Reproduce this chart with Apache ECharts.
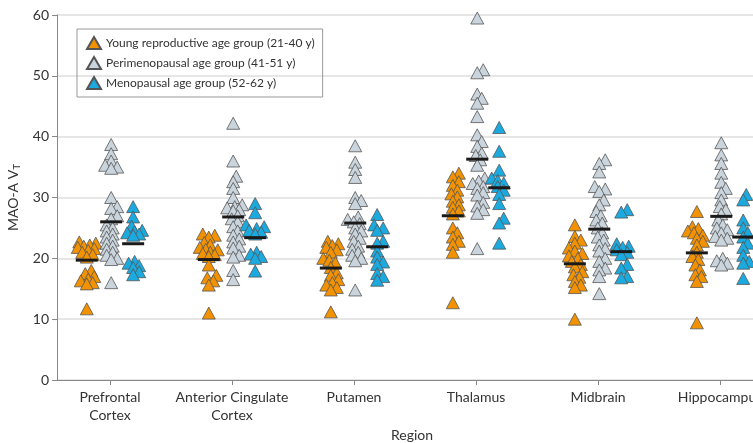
<!DOCTYPE html>
<html>
<head>
<meta charset="utf-8">
<script src="https://cdn.jsdelivr.net/npm/echarts@6/dist/echarts.min.js"></script>
<style>
html,body{margin:0;padding:0;background:#fff;}
#chart{width:753px;height:443px;}
</style>
</head>
<body>
<div id="chart"></div>
<script>
// ---------- data ----------
const categories = ['Prefrontal\nCortex', 'Anterior Cingulate\nCortex', 'Putamen', 'Thalamus', 'Midbrain', 'Hippocampus'];
const groupNames = ['Young reproductive age group (21-40 y)', 'Perimenopausal age group (41-51 y)', 'Menopausal age group (52-62 y)'];

const youngValues = [
  [22.7, 22.5, 22.2, 22.0, 21.8, 21.6, 21.3, 21.0, 20.6, 20.2, 18.0, 17.5, 17.0, 16.6, 16.3, 16.0, 15.8, 11.7],
  [24.0, 23.8, 23.5, 22.6, 22.2, 21.8, 21.5, 21.4, 21.0, 20.8, 20.6, 20.3, 18.9, 17.2, 16.8, 16.3, 15.6, 11.0],
  [22.8, 22.4, 22.1, 21.8, 21.4, 21.0, 20.0, 19.7, 19.3, 18.5, 17.6, 17.2, 16.5, 16.0, 15.6, 15.2, 14.8, 11.2],
  [34.0, 33.4, 32.6, 32.0, 31.2, 30.6, 30.1, 29.4, 28.8, 28.4, 27.8, 27.3, 25.0, 24.2, 23.5, 22.8, 22.3, 21.0, 12.7],
  [25.5, 23.6, 23.0, 22.5, 21.7, 21.2, 20.8, 20.4, 20.0, 19.5, 19.0, 18.6, 17.8, 17.3, 16.9, 16.2, 15.6, 15.2, 10.0],
  [27.7, 25.2, 24.9, 24.5, 24.2, 23.8, 23.3, 22.8, 22.2, 21.0, 20.3, 19.8, 18.9, 18.1, 17.3, 17.0, 16.2, 9.4]
];
const periValues = [
  [38.7, 37.2, 36.0, 35.3, 35.0, 34.8, 30.0, 28.5, 28.2, 27.0, 26.5, 25.5, 25.0, 24.5, 24.0, 23.5, 23.0, 22.5, 22.0, 21.5, 21.0, 20.5, 20.0, 19.8, 16.0],
  [42.2, 36.0, 33.5, 32.6, 31.5, 30.0, 28.8, 28.5, 28.3, 28.0, 27.8, 27.0, 26.5, 26.0, 25.2, 24.5, 23.8, 23.2, 22.7, 22.0, 21.7, 20.5, 20.2, 18.0, 16.5],
  [38.5, 35.8, 34.6, 33.3, 30.0, 29.5, 29.0, 26.8, 26.4, 26.0, 25.7, 25.0, 24.5, 24.0, 23.3, 22.8, 22.0, 21.5, 21.0, 20.5, 20.0, 19.6, 14.8],
  [59.5, 51.0, 50.5, 47.0, 46.3, 45.5, 43.3, 40.3, 39.2, 38.4, 37.3, 36.9, 36.2, 35.3, 33.2, 32.7, 32.3, 31.8, 31.5, 30.8, 30.4, 29.2, 28.6, 28.0, 27.4, 21.6],
  [36.2, 35.6, 34.2, 31.8, 31.4, 31.0, 29.6, 28.8, 27.7, 27.0, 26.3, 25.8, 25.0, 24.2, 23.5, 23.0, 22.2, 21.6, 21.2, 20.0, 19.5, 18.4, 18.1, 17.0, 14.2],
  [39.0, 37.0, 35.6, 34.0, 32.5, 31.5, 30.8, 29.6, 28.5, 28.0, 27.3, 26.3, 25.5, 25.0, 24.7, 24.2, 23.6, 23.3, 23.0, 20.0, 19.6, 19.2, 18.9]
];
const menoValues = [
  [28.5, 26.8, 25.3, 24.6, 24.4, 24.2, 24.0, 23.8, 19.5, 19.2, 18.8, 18.5, 17.8, 17.3],
  [29.0, 27.5, 25.5, 25.2, 24.9, 24.6, 24.3, 24.0, 21.0, 20.7, 20.3, 20.0, 17.9],
  [27.2, 25.5, 25.0, 24.6, 22.8, 22.5, 21.2, 20.2, 19.4, 19.0, 17.5, 17.0, 16.4],
  [41.5, 37.6, 34.5, 33.2, 32.8, 32.4, 31.8, 31.2, 30.5, 29.0, 26.6, 25.8, 22.5],
  [28.0, 27.6, 22.4, 22.0, 21.8, 21.4, 21.0, 20.6, 19.0, 18.4, 17.0, 16.8],
  [30.5, 29.6, 26.3, 25.0, 24.2, 23.5, 22.5, 21.8, 20.5, 19.5, 19.2, 16.7]
];
const youngMeans = [19.7, 19.8, 18.4, 27.0, 19.1, 20.9];
const periMeans  = [26.0, 26.8, 25.8, 36.3, 24.8, 26.9];
const menoMeans  = [22.4, 23.4, 21.9, 31.6, 21.1, 23.5];
const yTickValues = [0, 10, 20, 30, 40, 50, 60];

// ---------- layout / style ----------
const groupOffset = [-0.19, 0.01, 0.19];
const colors = ['#F29200', '#C9D4DC', '#1AAADF'];
const PX_X = 122, PX_Y = 6.083;
const FONT = "Lato, 'Liberation Sans', sans-serif";

// deterministic beeswarm: spread points sideways so they don't pile up
function swarm(vals) {
  const D = 6, step = 1.5, maxOff = 9;
  const order = vals.map((v, i) => i).sort((a, b) => vals[a] - vals[b]);
  const placed = [];
  const out = new Array(vals.length).fill(0);
  for (const i of order) {
    const y = vals[i] * PX_Y;
    let chosen = null, bestOff = 0, bestMin = -1;
    for (let k = 0; k <= (maxOff / step) * 2; k++) {
      const off = (k % 2 === 1 ? 1 : -1) * Math.ceil(k / 2) * step;
      let minD = Infinity;
      for (const p of placed) {
        const d = Math.hypot(p.x - off, p.y - y);
        if (d < minD) minD = d;
      }
      if (minD >= D) { chosen = off; break; }
      if (minD > bestMin) { bestMin = minD; bestOff = off; }
    }
    if (chosen === null) chosen = bestOff;
    placed.push({ x: chosen, y: y });
    out[i] = chosen / PX_X;
  }
  return out;
}

const allGroups = [youngValues, periValues, menoValues];
const allMeans = [youngMeans, periMeans, menoMeans];

const scatterSeries = allGroups.map((group, g) => {
  const data = [];
  group.forEach((vals, r) => {
    const jit = swarm(vals);
    vals.forEach((v, i) => data.push([r + groupOffset[g] + jit[i], v]));
  });
  return {
    name: groupNames[g],
    type: 'scatter',
    symbol: 'triangle',
    symbolSize: [13, 12],
    itemStyle: { color: colors[g], borderColor: '#555', borderWidth: 0.8, opacity: 1 },
    emphasis: { disabled: true },
    data: data,
    z: 2
  };
});

const meanData = [];
allMeans.forEach((means, g) => means.forEach((m, r) => meanData.push([r + groupOffset[g], m])));

const meanSeries = {
  type: 'custom',
  data: meanData,
  z: 5,
  renderItem: function (params, api) {
    const p = api.coord([api.value(0), api.value(1)]);
    return {
      type: 'line',
      shape: { x1: p[0] - 11, y1: p[1], x2: p[0] + 11, y2: p[1] },
      style: { stroke: '#1a1a1a', lineWidth: 3 }
    };
  }
};

const chart = echarts.init(document.getElementById('chart'), null, { renderer: 'canvas' });
chart.setOption({
  backgroundColor: '#fff',
  animation: false,
  textStyle: { fontFamily: FONT },
  grid: { left: 57, right: 0, top: 15, bottom: 63, containLabel: false, outerBoundsMode: 'none' },
  legend: {
    data: groupNames,
    orient: 'vertical',
    left: 77, top: 29,
    itemWidth: 14, itemHeight: 12, itemGap: 6,
    padding: [7, 8, 7, 9],
    borderColor: '#999', borderWidth: 1,
    icon: 'triangle',
    textStyle: { fontSize: 12, color: '#333', fontFamily: FONT }
  },
  xAxis: {
    type: 'value',
    min: -0.434, max: 5.27,
    name: 'Region',
    nameLocation: 'middle',
    nameGap: 42,
    nameTextStyle: { fontSize: 14, color: '#333', fontFamily: FONT, padding: [0, 0, 0, 14] },
    splitLine: { show: false },
    axisLine: { show: true, onZero: false, lineStyle: { color: '#888', width: 1 } },
    axisTick: { show: true, length: 5, customValues: categories.map((c, i) => i), lineStyle: { color: '#888' } },
    axisLabel: {
      customValues: categories.map((c, i) => i),
      formatter: v => categories[Math.round(v)],
      fontSize: 14, color: '#333', lineHeight: 18, margin: 8, fontFamily: FONT
    }
  },
  yAxis: {
    type: 'value',
    min: 0, max: 60, interval: 10,
    name: 'MAO-A V{sub|T}',
    nameLocation: 'middle',
    nameGap: 27,
    nameTextStyle: {
      fontSize: 14, color: '#333', fontFamily: FONT,
      rich: { sub: { fontSize: 10, fontFamily: FONT, color: '#333', padding: [6, 0, 0, 0] } }
    },
    axisLine: { show: true, onZero: false, lineStyle: { color: '#888', width: 1 } },
    axisTick: { show: true, length: 5, lineStyle: { color: '#888' } },
    splitLine: { show: true, lineStyle: { color: '#e6e6e6', width: 2 } },
    axisLabel: {
      fontSize: 14, color: '#333', margin: 8, fontFamily: FONT,
      customValues: yTickValues
    }
  },
  series: [...scatterSeries, meanSeries]
});
</script>
</body>
</html>
